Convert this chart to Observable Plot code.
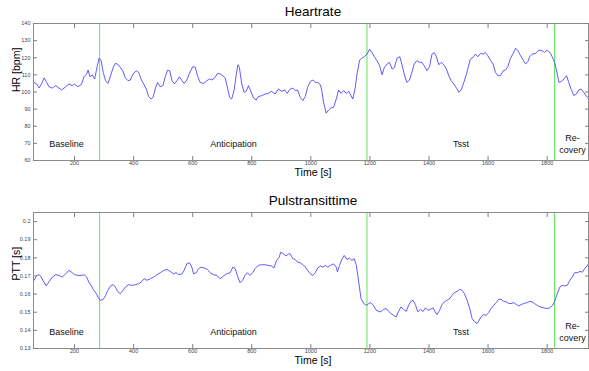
<!DOCTYPE html>
<html><head><meta charset="utf-8">
<script src="https://cdn.jsdelivr.net/npm/d3@7"></script>
<script src="https://cdn.jsdelivr.net/npm/@observablehq/plot@0.6"></script>
<style>
body{margin:0;background:#fff;font-family:'Liberation Sans',Arial,sans-serif}
#wrap{width:589px;height:371px;overflow:hidden;background:#fff}
.title{width:556px;margin-left:35px;text-align:center;font-size:13.5px;color:#000;white-space:nowrap;overflow:visible}
svg{display:block}
</style></head><body><div id="wrap"></div>
<script>
// ---- data ----
const xTicks = [200, 400, 600, 800, 1000, 1200, 1400, 1600, 1800];
const hrTicks = [60, 70, 80, 90, 100, 110, 120, 130, 140];
const pttTicks = [0.13, 0.14, 0.15, 0.16, 0.17, 0.18, 0.19, 0.2];
const phaseBounds = [285, 1190, 1825];
const phaseNames = ["Baseline", "Anticipation", "Tsst", "Re-\ncovery"];
const phaseCenters = [173, 738, 1508, 1886];

const hrTime = [63,72,80,88,97,106,113,125,136,147,156,170,181,192,200,211,223,232,241,246,252,260,268,277,283,290,297,305,313,322,331,338,346,355,364,372,381,389,398,409,417,425,434,443,451,459,466,474,481,490,499,507,515,522,530,538,547,555,564,571,580,589,600,609,616,625,637,648,657,665,676,684,693,702,710,716,725,732,740,747,753,758,766,774,781,789,797,806,815,822,834,845,856,867,879,890,901,912,920,
930,939,947,955,964,973,981,989,998,1007,1015,1023,1032,1037,1043,1052,1060,1068,1077,1086,1094,1102,1111,1120,1128,1136,1142,1150,1156,1165,1173,1181,1190,1199,1207,1215,1224,1233,1241,1249,1258,1266,1275,1283,1292,1301,1308,1316,1325,1334,1342,1350,1359,1368,1376,1384,1393,1402,1410,1418,1425,1433,1441,1450,1459,1467,1475,1484,1493,1501,1509,1518,1527,1534,1540,1549,1557,1565,1574,1583,1591,1599,1608,1617,1625,1633,1642,1651,1659,1667,1676,1685,1693,1701,1710,1719,1727,1735,1741,1749,1760,1772,1783,1791,1800,1809,1817,1825,1832,1840,1848,1857,1866,1873,1881,1890,1899,1907,1915,1924,1933,1940];
const hrValue = [105.6,104.7,102.3,104.7,108.2,105.6,103.1,102.3,103.7,102.3,101.2,103,104.7,103.7,104.7,103.1,104.3,108.9,110.5,112.8,108.9,110,107.6,115.3,119.8,118.3,111.5,106.6,105,109.5,114.4,116.7,116.3,114.4,112,108.2,106.6,107,110.5,112.4,111.5,107.6,104.7,101.7,97.3,95.9,96.9,102.3,105.6,103.1,103.7,108.9,112.8,112.4,106.6,104.7,106.6,108.9,106.6,105,107,110.9,114.8,114.4,109.5,105.6,105,106.6,107.6,107,108.5,110.9,110.5,109.5,108.2,103.7,96.9,95.9,100.8,109.5,115.9,114.4,104.7,99.8,100.4,103.7,100.4,96.5,95.3,97.3,97.9,98.8,99.2,100.4,98.8,101.7,100.4,101.2,99.2,
101.7,102.3,100.8,101.2,96.9,95,97.3,102.7,106.2,107,105.6,105.6,104.3,100.8,94,87.6,89.5,90.7,91.1,95.9,101.2,99.2,100.8,99.2,100.4,97.9,95.9,102.3,110.1,118.6,119.8,120.6,122.1,125,123.1,120.6,118.3,115.3,110.1,114.4,116.3,117.3,113.4,114.4,119.8,120.6,116.3,110.5,105.6,107,111.5,116.3,118.3,117.3,117.3,115.3,112.4,114.8,122.1,123.1,120.6,115.9,117.3,115.9,113.4,109.5,106.6,104.7,102.3,99.8,101.2,105.6,110.5,115.3,119.2,120.2,122.1,120.6,122.5,122.1,123.1,121.2,118.6,116.3,111.5,109.5,109.5,112.4,112.8,114.8,119.8,122.5,125.6,124.1,121.2,118.6,116.3,117.9,120.6,122.1,122.5,124.5,124.1,123.1,124.5,123.1,120.6,117.3,112.4,105.6,106.2,107.6,109.5,105.6,101.7,97.9,98.8,101.2,101.7,99.8,97.3,96.5];

const pttTime = [63,72,80,87,96,104,113,125,136,147,158,170,181,192,200,211,223,232,241,248,256,265,274,282,288,297,305,313,322,331,338,346,355,364,372,383,395,406,417,428,436,445,457,468,479,490,502,513,524,535,544,552,564,571,580,589,597,603,612,620,628,639,650,659,670,682,693,704,715,727,736,744,751,760,769,777,785,794,803,811,822,833,845,856,867,875,884,893,898,907,916,924,
930,939,947,955,964,973,981,989,998,1007,1015,1023,1032,1041,1049,1057,1066,1077,1086,1090,1097,1105,1113,1122,1131,1139,1147,1154,1162,1170,1179,1188,1196,1203,1212,1221,1229,1237,1246,1255,1263,1271,1280,1289,1297,1305,1314,1323,1331,1339,1346,1354,1362,1371,1380,1388,1396,1405,1414,1421,1427,1436,1444,1452,1461,1470,1478,1486,1495,1504,1512,1520,1529,1538,1546,1554,1563,1568,1576,1585,1594,1602,1610,1619,1628,1636,1644,1653,1662,1670,1678,1687,1696,1704,1712,1721,1732,1741,1749,1757,1766,1777,1789,1800,1809,1817,1825,1834,1843,1851,1859,1868,1877,1885,1893,1902,1911,1919,1927,1936,1940];
const pttValue = [0.1676,0.1703,0.1707,0.1694,0.1667,0.1645,0.1667,0.1694,0.1707,0.1703,0.1694,0.1712,0.1731,0.1718,0.1707,0.1703,0.1703,0.1707,0.1694,0.1667,0.1648,0.1621,0.1602,0.1575,0.1566,0.1571,0.1593,0.1621,0.1645,0.1652,0.1639,0.1615,0.1602,0.1621,0.1639,0.1652,0.1648,0.1652,0.1657,0.167,0.1685,0.1676,0.1685,0.1694,0.1707,0.1718,0.1731,0.1736,0.1725,0.1712,0.1718,0.1707,0.1712,0.1731,0.1767,0.1773,0.1749,0.1712,0.1718,0.174,0.1749,0.1744,0.1736,0.1718,0.1707,0.1703,0.1685,0.17,0.1712,0.1718,0.1749,0.174,0.1703,0.1663,0.1676,0.1703,0.1718,0.1703,0.1718,0.174,0.1758,0.1762,0.1762,0.1758,0.1755,0.1744,0.1786,0.1804,0.1831,0.1822,0.181,0.1822,
0.1822,0.1795,0.1791,0.1776,0.1773,0.1762,0.1749,0.1731,0.1712,0.1703,0.1718,0.1744,0.1755,0.1749,0.1758,0.1749,0.1758,0.1767,0.1749,0.1722,0.1758,0.1791,0.1813,0.1791,0.1798,0.1786,0.1795,0.1758,0.1667,0.1575,0.1548,0.1538,0.1548,0.1553,0.1538,0.1511,0.1505,0.1502,0.1516,0.152,0.1505,0.1493,0.1483,0.1474,0.1505,0.1529,0.1516,0.1505,0.1538,0.156,0.1566,0.1542,0.1502,0.1516,0.1505,0.1524,0.1511,0.1516,0.1524,0.1502,0.1487,0.1511,0.1542,0.1557,0.1566,0.1575,0.1593,0.1608,0.1615,0.1626,0.1621,0.1602,0.1566,0.152,0.1465,0.1447,0.1438,0.1451,0.1474,0.1487,0.1483,0.1498,0.152,0.1538,0.1553,0.1571,0.1571,0.156,0.1557,0.1548,0.1548,0.1553,0.1542,0.1535,0.1542,0.1548,0.1553,0.156,0.1557,0.1548,0.1538,0.1529,0.1524,0.152,0.1524,0.1535,0.1557,0.1602,0.1639,0.1648,0.1645,0.1648,0.1676,0.1694,0.1718,0.1718,0.1725,0.1721,0.174,0.1758,0.1767];

// ---- drawing ----
const FONT = "'Liberation Sans', Arial, sans-serif";
const wrap = document.getElementById("wrap");

function panel({title, titleH, titleLH, svgH, mTop, mBottom, yDomain, yTicks, yFmt, yLabel, tTime, tVal, phaseY}) {
  const t = document.createElement("div");
  t.className = "title";
  t.style.height = titleH + "px";
  t.style.lineHeight = titleLH + "px";
  t.textContent = title;
  wrap.appendChild(t);
  const chart = Plot.plot({
    width: 589, height: svgH,
    marginLeft: 33, marginRight: 1, marginTop: mTop, marginBottom: mBottom,
    x: {domain: [61, 1940]},
    y: {domain: yDomain},
    style: {fontFamily: FONT, background: "white", overflow: "visible"},
    marks: [
      Plot.ruleX(phaseBounds, {x: d => d, stroke: "#5ee85e", strokeWidth: 1}),
      Plot.line(tVal, {x: tTime, y: tVal, stroke: "#4040ff", strokeWidth: 0.85, clip: true}),
      Plot.text(phaseNames, {x: phaseCenters, y: phaseNames.map(() => phaseY), text: d => d, fontSize: 9, fill: "#111", lineHeight: 1.3}),
      Plot.frame({stroke: "#8c8c8c"}),
      Plot.axisX(xTicks, {anchor: "bottom", tickSize: -4, tickPadding: 5, fontSize: 5.5, tickFormat: d => String(d), stroke: "#808080", fill: "#444", label: null}),
      Plot.axisX(xTicks, {anchor: "top", tickSize: -4, tickFormat: () => "", stroke: "#808080", label: null}),
      Plot.axisY(yTicks, {anchor: "left", tickSize: -4, tickPadding: 7, fontSize: 5.5, tickFormat: yFmt, stroke: "#808080", fill: "#444", label: null}),
      Plot.axisY(yTicks, {anchor: "right", tickSize: -4, tickFormat: () => "", stroke: "#808080", label: null}),
      Plot.text(["Time [s]"], {frameAnchor: "bottom", dy: 15, dx: 2, text: d => d, fontSize: 10.5, fill: "#000"}),
      Plot.text([yLabel], {frameAnchor: "left", dx: -17, rotate: -90, text: d => d, fontSize: 10.5, fill: "#000"})
    ]
  });
  wrap.appendChild(chart);
}

panel({title: "Heartrate", titleH: 22, titleLH: 24, svgH: 163, mTop: 1, mBottom: 25,
  yDomain: [60, 140], yTicks: hrTicks, yFmt: d => String(d), yLabel: "HR [bpm]",
  tTime: hrTime, tVal: hrValue, phaseY: 70});
panel({title: "Pulstransittime", titleH: 26, titleLH: 31, svgH: 160, mTop: 1, mBottom: 23,
  yDomain: [0.13, 0.205], yTicks: pttTicks, yFmt: d => String(+d.toFixed(2)), yLabel: "PTT [s]",
  tTime: pttTime, tVal: pttValue, phaseY: 0.1395});
</script></body></html>
